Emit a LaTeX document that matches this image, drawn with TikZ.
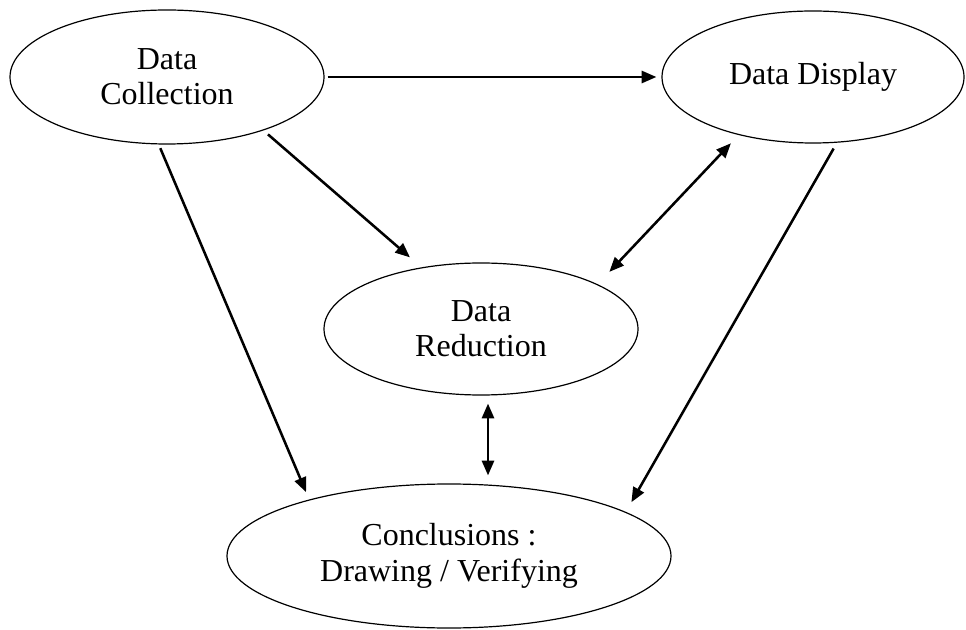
\documentclass[tikz,border=0pt]{standalone}
\usepackage{fontspec}
\setmainfont{Liberation Serif}
\usetikzlibrary{arrows.meta,shapes.geometric}
\begin{document}
\begin{tikzpicture}[x=0.75pt,y=0.75pt,yscale=-1,xscale=1,
  stage/.style={draw,ellipse,line width=0.9pt,inner sep=0pt,align=center,font=\fontsize{24}{26.5}\selectfont},
  flow/.style={line width=1.9pt,-{Triangle[length=11pt,width=9pt]}},
  twoway/.style={line width=1.9pt,{Triangle[length=11pt,width=9pt]}-{Triangle[length=11pt,width=9pt]}}]
\useasboundingbox (0,0) rectangle (966,630);

% Ellipses
\node[stage,minimum width=235.5pt,minimum height=100.5pt] (coll) at (167,77) {Data\\Collection};
\node[stage,minimum width=226.5pt,minimum height=99pt] (disp) at (813,77) {Data Display};
\node[stage,minimum width=235.5pt,minimum height=99pt] (red) at (481,329) {Data\\Reduction};
\node[stage,minimum width=333pt,minimum height=108pt] (concl) at (449,556) {Conclusions :\\Drawing / Verifying};

% Straight Lines
\draw[flow,shorten <=2.25pt,shorten >=3.75pt] (coll.east) -- (disp.west);
\draw[flow,shorten <=4.5pt,shorten >=11.4pt] (coll.-29) -- (red.134);
\draw[flow,shorten <=3pt,shorten >=6pt] (coll.-97) -- (concl.158);
\draw[twoway,shorten <=8.5pt,shorten >=12.75pt] (disp.218) -- (red.21);
\draw[flow,shorten <=5pt,shorten >=8.4pt] (disp.-70) -- (concl.14);
\coordinate (redfoot) at ([xshift=5.25pt]red.south);
\draw[twoway,shorten <=6pt,shorten >=6pt] (redfoot) -- (redfoot |- concl.north);

\end{tikzpicture}
\end{document}
